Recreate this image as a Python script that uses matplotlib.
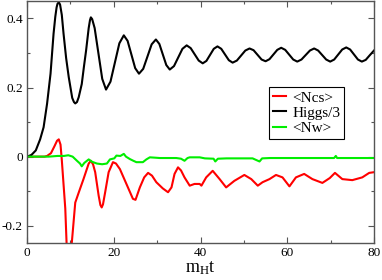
import matplotlib
matplotlib.use("Agg")
import matplotlib.pyplot as plt
from matplotlib.ticker import MultipleLocator

plt.rcParams['font.family'] = ['Liberation Serif', 'DejaVu Serif']
plt.rcParams['mathtext.fontset'] = 'custom'
plt.rcParams['mathtext.rm'] = 'Liberation Serif'
plt.rcParams['mathtext.it'] = 'Liberation Serif'

# Higgs/3 (black)
t_higgs = [0, 1, 2, 3, 3.8, 4.6, 5.4, 6.1, 6.5, 6.8, 7.0, 7.3, 7.6, 8.0, 8.4, 9.0, 9.6, 10.4, 10.8, 11.1,
           11.5, 11.9, 12.6, 13.1, 13.6, 14.2, 14.5, 14.7, 15.0,
           15.575, 16.45, 17.325, 18.2, 19.225, 20.25, 21.275, 22.3,
           23.175, 24.05, 24.925, 25.8, 26.775, 27.75, 28.725, 29.7,
           30.5, 31.3, 32.1, 32.9, 33.875, 34.85, 35.825, 36.8,
           37.725, 38.65, 39.575, 40.5, 41.35, 42.2, 43.05, 43.9,
           44.775, 45.65, 46.525, 47.4, 48.375, 49.35, 50.325, 51.3,
           52.225, 53.15, 54.075, 55.0, 55.9, 56.8, 57.7, 58.6,
           59.525, 60.45, 61.375, 62.3, 63.275, 64.25, 65.225, 66.2,
           67.125, 68.05, 68.975, 69.9, 70.825, 71.75, 72.675, 73.6,
           74.5, 75.4, 76.3, 77.2, 78.1, 79.0, 80]
v_higgs = [0, 0.005, 0.018, 0.05, 0.085, 0.153, 0.24, 0.356, 0.405, 0.432, 0.442, 0.447, 0.44, 0.41, 0.356, 0.285, 0.23, 0.17, 0.158, 0.154,
           0.158, 0.172, 0.21, 0.26, 0.307, 0.372, 0.395, 0.403, 0.398,
           0.372, 0.2985, 0.225, 0.194, 0.217, 0.2725, 0.328, 0.351,
           0.335, 0.2955, 0.256, 0.24, 0.254, 0.2895, 0.325, 0.339,
           0.326, 0.2955, 0.265, 0.252, 0.262, 0.287, 0.312, 0.322,
           0.314, 0.296, 0.278, 0.27, 0.277, 0.2945, 0.312, 0.319,
           0.312, 0.2955, 0.279, 0.272, 0.278, 0.2925, 0.307, 0.313,
           0.308, 0.2945, 0.281, 0.276, 0.282, 0.2955, 0.309, 0.315,
           0.309, 0.295, 0.281, 0.275, 0.281, 0.294, 0.307, 0.313,
           0.307, 0.294, 0.281, 0.275, 0.281, 0.2955, 0.31, 0.316,
           0.31, 0.2955, 0.281, 0.275, 0.28, 0.293, 0.307]

# <Ncs> (red)
t_ncs = [0, 4.0, 4.6, 5.5, 6.3, 6.9, 7.3, 7.7, 8.0, 8.8, 9.1, 9.7, 10.3, 11.1, 11.9, 13.0,
         14.2, 14.7, 15.2, 15.7, 16.5, 16.9, 17.2, 17.5, 18.0, 18.8, 19.8, 20.5, 21.4, 22.9, 24.4, 25.0,
         26.0, 27.0, 27.9, 28.8, 29.8, 31.3, 32.5, 33.3, 34.0, 34.8, 35.5, 36.3, 37.5, 38.6,
         39.8, 40.2, 41.3, 42.8, 44.4, 45.9, 47.8, 50.1, 51.7, 53.2, 54.3, 55.9, 57.4, 58.9,
         60.5, 62.0, 63.9, 65.8, 68.1, 69.8, 71.0, 72.7, 75.0, 77.3, 78.9, 80]
v_ncs = [0, 0, 0.002, 0.01, 0.03, 0.046, 0.05, 0.035, -0.01, -0.15, -0.25, -0.32, -0.25, -0.133, -0.104, -0.065,
         -0.02, -0.012, -0.022, -0.045, -0.113, -0.14, -0.147, -0.138, -0.103, -0.045, -0.016, -0.02, -0.036, -0.079, -0.122, -0.125,
         -0.089, -0.06, -0.047, -0.055, -0.074, -0.092, -0.103, -0.089, -0.05, -0.031, -0.04, -0.06, -0.084, -0.079,
         -0.079, -0.084, -0.06, -0.041, -0.065, -0.089, -0.07, -0.053, -0.065, -0.084, -0.074, -0.065, -0.053, -0.06,
         -0.086, -0.06, -0.05, -0.065, -0.076, -0.062, -0.047, -0.065, -0.068, -0.06, -0.047, -0.045]

# <Nw> (green)
t_nw = [0, 5, 7, 8.5, 9.5, 10.5, 11.5, 12.2, 12.6, 13.2, 14.2, 15.0, 16.1, 17.3, 18.4, 19.1,
        20.1, 20.6, 21.5, 22.3, 22.8, 23.7, 24.5, 25.2, 26.7, 27.5, 28.3, 29.5, 30.6, 32.0,
        34.4, 35.5, 36.3, 37.0, 37.5, 39.8, 41.0, 43.0, 43.4, 44.0, 46.0, 49.0, 52.0, 53.6,
        54.2, 56.0, 60.0, 65.0, 70.8, 71.2, 71.5, 75.0, 80]
v_nw = [0, 0, 0.002, 0.002, 0.004, 0.0, -0.012, -0.02, -0.028, -0.018, -0.008, -0.015, -0.02, -0.022, -0.02, -0.008,
        -0.005, 0.003, 0.002, 0.008, 0.0, -0.007, -0.012, -0.016, -0.016, -0.008, -0.002, -0.003, -0.004, -0.004,
        -0.004, -0.006, -0.012, -0.004, -0.002, -0.002, -0.005, -0.006, -0.014, -0.006, -0.005, -0.005, -0.005, -0.014,
        -0.005, -0.004, -0.004, -0.004, -0.004, 0.002, -0.004, -0.004, -0.004]

fig = plt.figure(figsize=(3.82, 2.8), dpi=100)
ax = fig.add_axes([0.071, 0.132, 0.908, 0.864])

ax.plot(t_ncs, v_ncs, color='#ff0000', lw=1.5, label='<Ncs>')
ax.plot(t_higgs, v_higgs, color='black', lw=1.5, label='Higgs/3')
ax.plot(t_nw, v_nw, color='#00ee00', lw=1.5, label='<Nw>')

ax.set_xlim(0, 80)
ax.set_ylim(-0.25, 0.45)
ax.xaxis.set_major_locator(MultipleLocator(20))
ax.xaxis.set_minor_locator(MultipleLocator(10))
ax.yaxis.set_minor_locator(MultipleLocator(0.1))
yt = [-0.2, 0, 0.2, 0.4]
ax.set_yticks(yt)
ax.set_yticklabels(['-0.2', '0', '0.2', '0.4'])

ax.tick_params(which='both', direction='in', top=True, right=True, labelsize=9.5,
               color='#555555', pad=3)
ax.tick_params(which='major', length=4.5, width=0.8)
ax.tick_params(which='minor', length=2.5, width=0.8)
for s in ax.spines.values():
    s.set_color('#555555')
    s.set_linewidth(1.0)

ax.set_xlabel(r'm$_\mathrm{H}$t', fontsize=13, labelpad=0)

leg = ax.legend(loc='upper left', bbox_to_anchor=(0.697, 0.645), borderaxespad=0,
                fancybox=False, edgecolor='black', framealpha=1, fontsize=11,
                handlelength=0.9, handletextpad=0.4, borderpad=0.25, labelspacing=0.1)
leg.get_frame().set_linewidth(0.8)

fig.savefig('out.png', dpi=100)
